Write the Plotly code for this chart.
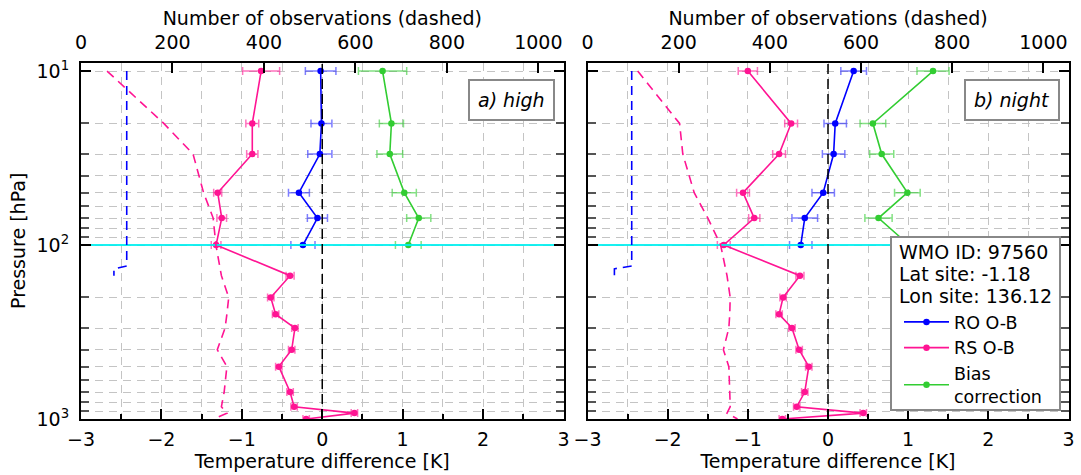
import plotly.graph_objects as go

# Pressure levels [hPa]
levels = [10, 20, 30, 50, 70, 100, 150, 200, 250, 300, 400, 500, 700, 850, 925, 1000]
levels_ro = [10, 20, 30, 50, 70, 100]

# a) high
rs_high = [-0.76, -0.87, -0.87, -1.30, -1.25, -1.32, -0.40, -0.64, -0.58, -0.34, -0.38, -0.54, -0.40, -0.35, 0.40, -0.20]
rs_high_err = [0.23, 0.08, 0.07, 0.05, 0.06, 0.06, 0.05, 0.04, 0.04, 0.04, 0.04, 0.04, 0.04, 0.04, 0.04, 0.04]
ro_high = [-0.02, -0.01, -0.03, -0.29, -0.06, -0.24]
ro_high_err = [0.19, 0.13, 0.15, 0.13, 0.125, 0.15]
bc_high = [0.75, 0.86, 0.84, 1.02, 1.20, 1.07]
bc_high_err = [0.30, 0.15, 0.16, 0.15, 0.15, 0.16]

# b) night
rs_night = [-1.00, -0.46, -0.61, -1.06, -0.92, -1.30, -0.35, -0.56, -0.61, -0.45, -0.36, -0.24, -0.29, -0.39, 0.44, -0.57]
rs_night_err = [0.12, 0.08, 0.08, 0.08, 0.07, 0.08, 0.05, 0.04, 0.04, 0.04, 0.04, 0.04, 0.04, 0.04, 0.04, 0.04]
ro_night = [0.32, 0.09, 0.07, -0.06, -0.29, -0.34]
ro_night_err = [0.16, 0.14, 0.14, 0.14, 0.16, 0.14]
bc_night = [1.31, 0.56, 0.67, 0.99, 0.63, 1.01]
bc_night_err = [0.20, 0.16, 0.15, 0.16, 0.17, 0.16]

# Number of observations (dashed)
levels_ro_count = [10, 20, 30, 50, 70, 100, 132, 137, 150]
ro_count_high = [100, 100, 100, 100, 100, 100, 100, 72, 72]
ro_count_night = [97, 97, 97, 97, 97, 97, 97, 59, 59]
rs_count_high = [57, 181, 245, 268, 289, 295, 307, 323, 319, 315, 298, 319, 313, 307, 319, 290]
rs_count_night = [110, 202, 209, 234, 264, 292, 306, 313, 312, 310, 298, 310, 312, 313, 306, 329]

panel_labels = ["a) high", "b) night"]
site_lines = ["WMO ID: 97560", "Lat site: -1.18", "Lon site: 136.12"]

BLUE = "#0000ff"
PINK = "#ff1493"
GREEN = "#32cd32"
FONT = "DejaVu Sans"
GRID = "#c4c4c4"
GDASH = "8px,6px"
W, H = 1081, 475

fig = go.Figure()

panels = [
    dict(xk="x", xo="x3", y="y", rs=rs_high, rse=rs_high_err, ro=ro_high, roe=ro_high_err,
         bc=bc_high, bce=bc_high_err, roc=ro_count_high, rsc=rs_count_high, legend=False),
    dict(xk="x2", xo="x4", y="y2", rs=rs_night, rse=rs_night_err, ro=ro_night, roe=ro_night_err,
         bc=bc_night, bce=bc_night_err, roc=ro_count_night, rsc=rs_count_night, legend=True),
]

for p in panels:
    # 100 hPa reference line across the panel
    fig.add_trace(go.Scatter(x=[0, 1100], y=[100, 100], xaxis=p["xo"], yaxis=p["y"], mode="lines",
                             line=dict(color="rgba(0,240,240,0.9)", width=2), showlegend=False,
                             hoverinfo="skip"))
    # observation counts
    fig.add_trace(go.Scatter(x=p["roc"], y=levels_ro_count, xaxis=p["xo"], yaxis=p["y"], mode="lines",
                             line=dict(color=BLUE, width=1.6, dash="9px,6px"), showlegend=False))
    fig.add_trace(go.Scatter(x=p["rsc"], y=levels, xaxis=p["xo"], yaxis=p["y"], mode="lines",
                             line=dict(color=PINK, width=1.6, dash="9px,6px"), showlegend=False))
    # O-B profiles and bias correction
    fig.add_trace(go.Scatter(x=p["ro"], y=levels_ro, xaxis=p["xk"], yaxis=p["y"], mode="lines+markers",
                             name="RO O-B", legendrank=1,
                             line=dict(color=BLUE, width=1.6), marker=dict(color=BLUE, size=6.5),
                             error_x=dict(type="data", array=p["roe"], color="rgba(40,40,255,0.6)",
                                          thickness=1.5, width=4),
                             showlegend=p["legend"]))
    fig.add_trace(go.Scatter(x=p["rs"], y=levels, xaxis=p["xk"], yaxis=p["y"], mode="lines+markers",
                             name="RS O-B", legendrank=2,
                             line=dict(color=PINK, width=1.6), marker=dict(color=PINK, size=6.5),
                             error_x=dict(type="data", array=p["rse"], color="rgba(255,20,147,0.6)",
                                          thickness=1.5, width=4),
                             showlegend=p["legend"]))
    fig.add_trace(go.Scatter(x=p["bc"], y=levels_ro, xaxis=p["xk"], yaxis=p["y"], mode="lines+markers",
                             name="Bias<br>correction", legendrank=3,
                             line=dict(color=GREEN, width=1.6), marker=dict(color=GREEN, size=6.5),
                             error_x=dict(type="data", array=p["bce"], color="rgba(50,205,50,0.6)",
                                          thickness=1.5, width=4),
                             showlegend=p["legend"]))

tickfont = dict(family=FONT, size=19, color="black")
titlefont = dict(family=FONT, size=19, color="black")

def k_axis(domain, anchor):
    return dict(domain=domain, anchor=anchor, range=[-3, 3], tick0=0, dtick=1,
                ticks="inside", ticklen=10, tickwidth=1.5, tickcolor="black",
                showline=True, linecolor="black", linewidth=2, zeroline=False,
                showgrid=True, gridcolor=GRID, griddash=GDASH, gridwidth=1,
                minor=dict(dtick=0.5, tick0=0, showgrid=True, gridcolor=GRID, griddash=GDASH,
                           ticks="inside", ticklen=5, tickcolor="black"),
                tickfont=tickfont, ticklabelstandoff=2, automargin=False,
                title=dict(text="Temperature difference [K]", font=titlefont, standoff=4))

def obs_axis(over, anchor):
    return dict(overlaying=over, anchor=anchor, side="top", range=[0, 1055], tick0=0, dtick=200,
                ticks="inside", ticklen=10, tickwidth=1.5, tickcolor="black",
                showline=True, linecolor="black", linewidth=2, zeroline=False, showgrid=False,
                tickfont=tickfont, ticklabelstandoff=4, automargin=False,
                title=dict(text="Number of observations (dashed)", font=titlefont, standoff=0))

minor_p = [20, 30, 40, 50, 60, 70, 80, 90, 200, 300, 400, 500, 600, 700, 800, 900]

def p_axis(anchor, labels, title):
    d = dict(domain=[0.1179, 0.868], anchor=anchor, type="log", range=[3, 0.952],
             tickvals=[10, 100, 1000],
             ticktext=["10<sup>1</sup>", "10<sup>2</sup>", "10<sup>3</sup>"],
             ticks="inside", ticklen=10, tickwidth=1.5, tickcolor="black",
             showline=True, linecolor="black", linewidth=2, mirror="ticks", zeroline=False,
             showgrid=True, gridcolor=GRID, griddash=GDASH, gridwidth=1,
             minor=dict(tickvals=minor_p, showgrid=True, gridcolor=GRID, griddash=GDASH,
                        ticks="inside", ticklen=8, tickcolor="#555555"),
             tickfont=tickfont, showticklabels=labels, ticklabelstandoff=6, automargin=False)
    if title:
        d["title"] = dict(text="Pressure [hPa]", font=titlefont, standoff=6)
    return d

# Box around the site information and legend (right panel)
box_l, box_r, box_t, box_b = 891, 1060, 237, 410

fig.update_layout(
    width=W, height=H,
    margin=dict(l=0, r=0, t=0, b=0),
    paper_bgcolor="white", plot_bgcolor="white",
    font=dict(family=FONT, size=19, color="black"),
    xaxis=k_axis([81 / W, 563.5 / W], "y"),
    xaxis2=k_axis([587.5 / W, 1068.5 / W], "y2"),
    xaxis3=obs_axis("x", "y"),
    xaxis4=obs_axis("x2", "y2"),
    yaxis=p_axis("x", True, True),
    yaxis2=p_axis("x2", False, False),
    showlegend=True,
    legend=dict(x=(box_l + 8) / W, y=1 - 304 / H, xanchor="left", yanchor="top",
                bgcolor="rgba(0,0,0,0)", borderwidth=0,
                font=dict(family=FONT, size=17.5, color="black"),
                tracegroupgap=0, itemwidth=45),
)
fig.update_layout(yaxis2=dict(matches="y"))

shapes = []
annotations = []
for xk, label in zip(["x", "x2"], panel_labels):
    yd = "y domain" if xk == "x" else "y2 domain"
    shapes.append(dict(type="line", xref=xk, yref=yd, x0=0, x1=0, y0=0, y1=1, layer="above",
                       line=dict(color="black", width=1.5, dash="10px,5px")))
    annotations.append(dict(xref=xk + " domain", yref=yd, x=0.983, y=0.955, xanchor="right",
                            yanchor="top", showarrow=False, text="<i>" + label + "</i>",
                            font=dict(family=FONT, size=19, color="black"),
                            bgcolor="white", bordercolor="#888888", borderwidth=2, borderpad=8))

shapes.append(dict(type="rect", xref="paper", yref="paper", layer="above",
                   x0=box_l / W, x1=box_r / W, y0=1 - box_b / H, y1=1 - box_t / H,
                   fillcolor="white", line=dict(color="#888888", width=2)))
for i, line in enumerate(site_lines):
    annotations.append(dict(xref="paper", yref="paper", x=(box_l + 6) / W, y=1 - (251.5 + 22 * i) / H,
                            xanchor="left", yanchor="middle", showarrow=False, text=line,
                            font=dict(family=FONT, size=19, color="black")))
fig.update_layout(shapes=shapes, annotations=annotations)

fig.write_html("out.html")
